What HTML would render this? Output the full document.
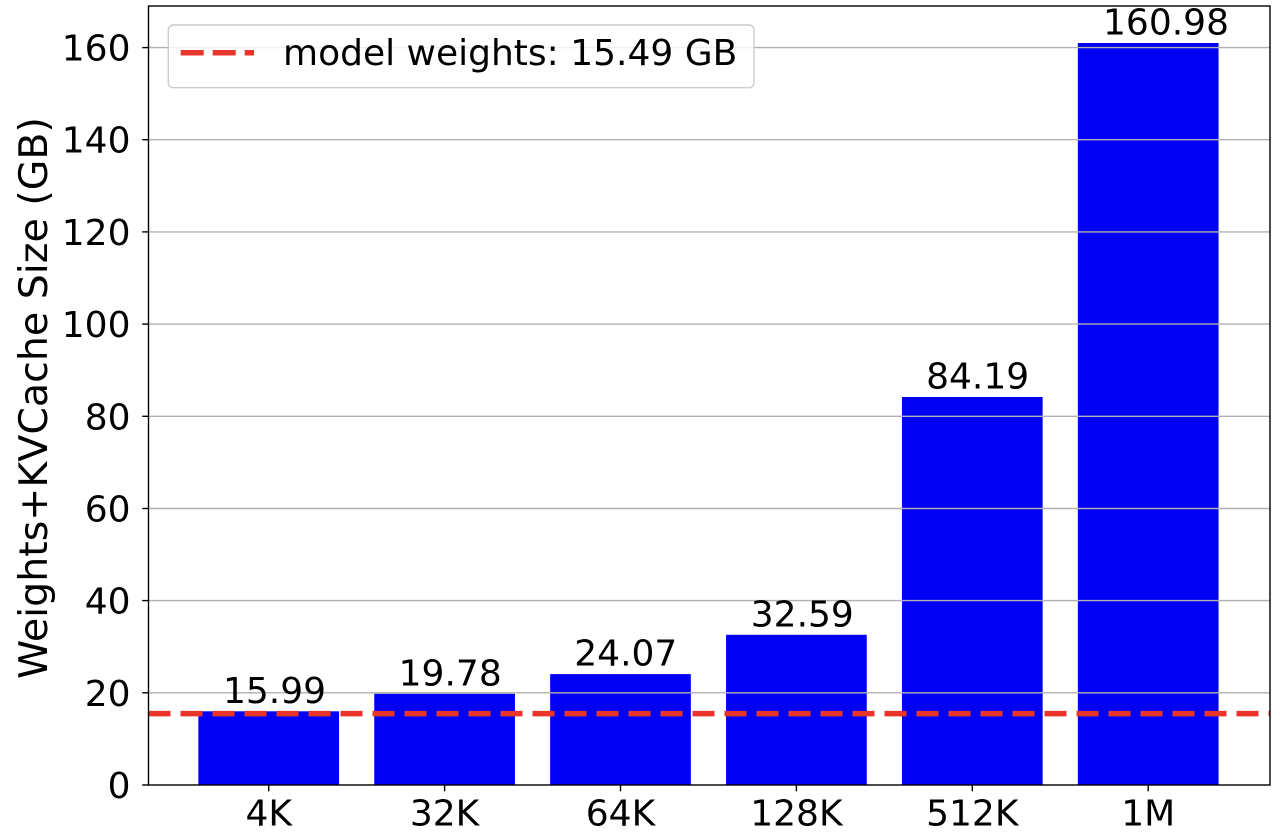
<!DOCTYPE html>
<html>
<head>
<meta charset="utf-8">
<style>
  html, body { margin: 0; padding: 0; background: #ffffff; }
  svg { display: block; }
  text { font-family: "DejaVu Sans", "Liberation Sans", sans-serif; fill: #000; }
</style>
</head>
<body>
<svg width="1280" height="836" viewBox="0 0 1280 836" xmlns="http://www.w3.org/2000/svg">
  <rect x="0" y="0" width="1280" height="836" fill="#ffffff"/>

  <!-- bars -->
  <g fill="#0000f5">
    <rect x="198.35" y="711.3" width="140.7" height="73.7"/>
    <rect x="374.25" y="693.8" width="140.7" height="91.2"/>
    <rect x="550.15" y="674.1" width="140.7" height="110.9"/>
    <rect x="726.05" y="634.8" width="140.7" height="150.2"/>
    <rect x="901.95" y="397.0" width="140.7" height="388.0"/>
    <rect x="1077.85" y="43.0" width="140.7" height="742.0"/>
  </g>

  <!-- horizontal grid -->
  <g stroke="#b0b0b0" stroke-width="1.4">
    <line x1="148.5" x2="1270" y1="692.8" y2="692.8"/>
    <line x1="148.5" x2="1270" y1="600.6" y2="600.6"/>
    <line x1="148.5" x2="1270" y1="508.5" y2="508.5"/>
    <line x1="148.5" x2="1270" y1="416.3" y2="416.3"/>
    <line x1="148.5" x2="1270" y1="324.1" y2="324.1"/>
    <line x1="148.5" x2="1270" y1="231.9" y2="231.9"/>
    <line x1="148.5" x2="1270" y1="139.7" y2="139.7"/>
    <line x1="148.5" x2="1270" y1="47.6" y2="47.6"/>
  </g>

  <!-- model weights line -->
  <line x1="148.5" x2="1270" y1="713.6" y2="713.6" stroke="#e9362a" stroke-width="5.5" stroke-dasharray="22 10"/>

  <!-- spines -->
  <rect x="148.5" y="6" width="1121.5" height="779" fill="none" stroke="#000" stroke-width="1.4"/>

  <!-- y ticks -->
  <g stroke="#000" stroke-width="1.4">
    <line x1="142.2" x2="148.5" y1="785" y2="785"/>
    <line x1="142.2" x2="148.5" y1="692.8" y2="692.8"/>
    <line x1="142.2" x2="148.5" y1="600.6" y2="600.6"/>
    <line x1="142.2" x2="148.5" y1="508.5" y2="508.5"/>
    <line x1="142.2" x2="148.5" y1="416.3" y2="416.3"/>
    <line x1="142.2" x2="148.5" y1="324.1" y2="324.1"/>
    <line x1="142.2" x2="148.5" y1="231.9" y2="231.9"/>
    <line x1="142.2" x2="148.5" y1="139.7" y2="139.7"/>
    <line x1="142.2" x2="148.5" y1="47.6" y2="47.6"/>
  </g>
  <g font-size="36" text-anchor="end">
    <text x="130.5" y="798">0</text>
    <text x="130.5" y="705.8">20</text>
    <text x="130.5" y="613.6">40</text>
    <text x="130.5" y="521.5">60</text>
    <text x="130.5" y="429.3">80</text>
    <text x="130.5" y="337.1">100</text>
    <text x="130.5" y="244.9">120</text>
    <text x="130.5" y="152.7">140</text>
    <text x="130.5" y="60.6">160</text>
  </g>

  <!-- x ticks -->
  <g stroke="#000" stroke-width="1.4">
    <line x1="268.7" x2="268.7" y1="785" y2="791.3"/>
    <line x1="444.6" x2="444.6" y1="785" y2="791.3"/>
    <line x1="620.5" x2="620.5" y1="785" y2="791.3"/>
    <line x1="796.4" x2="796.4" y1="785" y2="791.3"/>
    <line x1="972.3" x2="972.3" y1="785" y2="791.3"/>
    <line x1="1148.2" x2="1148.2" y1="785" y2="791.3"/>
  </g>
  <g font-size="36" text-anchor="middle">
    <text x="268.7" y="825.5">4K</text>
    <text x="444.6" y="825.5">32K</text>
    <text x="620.5" y="825.5">64K</text>
    <text x="796.4" y="825.5">128K</text>
    <text x="972.3" y="825.5">512K</text>
    <text x="1148.2" y="825.5">1M</text>
  </g>

  <!-- bar labels -->
  <g font-size="36" text-anchor="middle">
    <text x="274.5" y="702.8">15.99</text>
    <text x="450.2" y="685.3">19.78</text>
    <text x="625.8" y="665.6">24.07</text>
    <text x="802.3" y="626.3">32.59</text>
    <text x="977.6" y="388.5">84.19</text>
    <text x="1166" y="34.5">160.98</text>
  </g>

  <!-- y label -->
  <text transform="translate(47,398) rotate(-90)" font-size="39.5" text-anchor="middle">Weights+KVCache Size (GB)</text>

  <!-- legend -->
  <rect x="168.3" y="25" width="585.7" height="62.7" rx="5" ry="5" fill="#ffffff" fill-opacity="0.8" stroke="#cccccc" stroke-width="1.4"/>
  <line x1="180.7" x2="254" y1="52.7" y2="52.7" stroke="#e9362a" stroke-width="5.5" stroke-dasharray="23 9"/>
  <text x="283" y="65" font-size="36">model weights: 15.49 GB</text>
</svg>
</body>
</html>
